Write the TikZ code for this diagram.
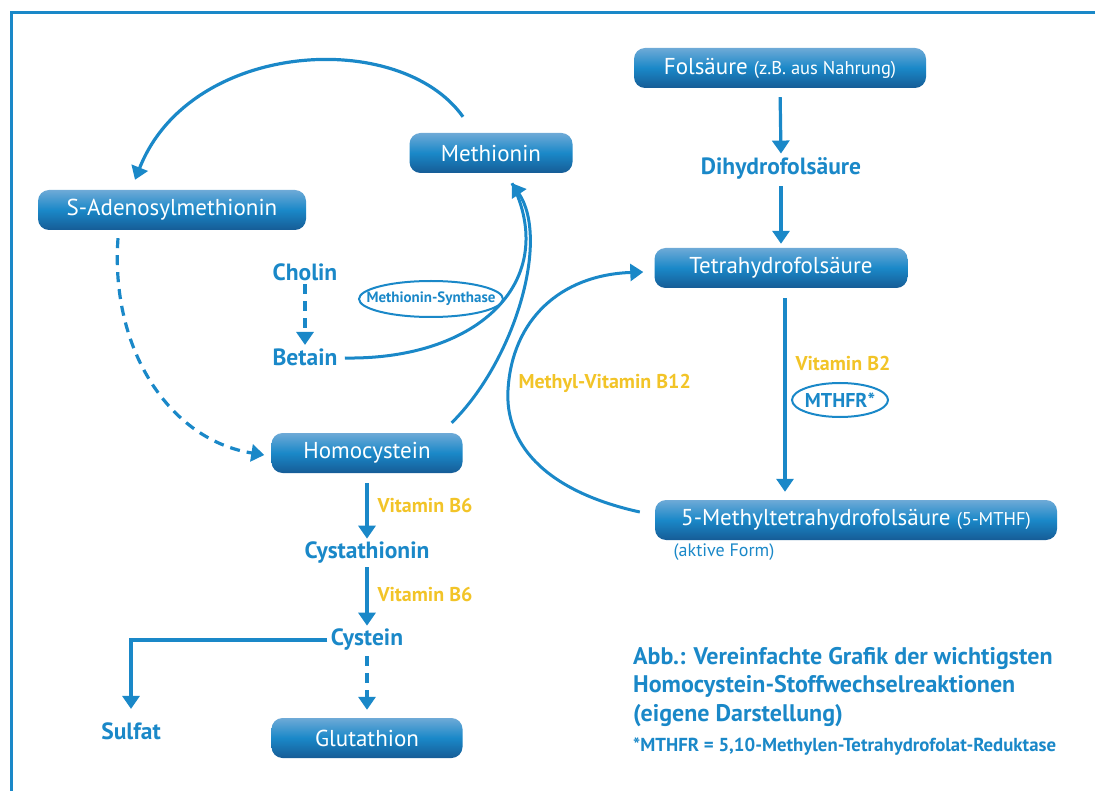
\documentclass[tikz,border=0pt]{standalone}
\usepackage{fontspec}
\setmainfont{PT Sans}
\usetikzlibrary{arrows.meta,calc}

\definecolor{mblue}{RGB}{26,136,200}
\definecolor{mtop}{RGB}{110,170,215}
\definecolor{mbot}{RGB}{22,92,150}
\definecolor{myellow}{RGB}{242,196,40}

\tikzset{
  box/.style={rounded corners=11pt, top color=mtop, bottom color=mbot, middle color=mblue,
    text=white, minimum height=40pt, inner sep=0pt, font=\fontsize{23}{26}\selectfont},
  small/.style={font=\fontsize{18.5}{20}\selectfont},
  lbl/.style={text=mblue, font=\fontsize{23.5}{26}\bfseries},
  vit/.style={text=myellow, font=\fontsize{20}{22}\bfseries, anchor=west},
  enz/.style={text=mblue, inner sep=0pt, font=\fontsize{15}{17}\bfseries},
  ring/.style={draw=mblue, line width=2pt},
  arr/.style={mblue, line width=3.2pt, -{Triangle[length=13pt,width=17pt]}},
  darr/.style={arr, dash pattern=on 10pt off 7pt},
}

\begin{document}
\begin{tikzpicture}[x=1pt, y=-1pt]
  \useasboundingbox (0,0) rectangle (1095,791);
  \draw[mblue, line width=3pt] (11,791) -- (11,13) -- (1095,13);

  % boxes
  \node[box, minimum width=163pt] (met) at (491,153) {Methionin};
  \node[box, minimum width=268pt] (sam) at (172,210) {S-Adenosylmethionin};
  \node[box, minimum width=292pt] (fol) at (780,68) {Fols\"aure {\fontsize{18.5}{20}\selectfont(z.B. aus Nahrung)}};
  \node[box, minimum width=253pt] (thf) at (781,268) {Tetrahydrofols\"aure};
  \node[box, minimum width=191pt] (hcy) at (367,453) {Homocystein};
  \node[box, minimum width=402pt] (mthf) at (856,520) {5-Methyltetrahydrofols\"aure {\fontsize{18.5}{20}\selectfont(5-MTHF)}};
  \node[box, minimum width=191pt] (glu) at (367,738) {Glutathion};

  % labels
  \node[lbl] (cho) at (305,272) {Cholin};
  \node[lbl] (bet) at (305,357) {Betain};
  \node[lbl] (dhf) at (781,168) {Dihydrofols\"aure};
  \node[lbl] (cyt) at (367,553) {Cystathionin};
  \node[lbl] (cys) at (367,640) {Cystein};
  \node[lbl] (sul) at (131,731) {Sulfat};
  \node[enz] (ms) at (431,299) {Methionin-Synthase};
  \draw[ring] (ms) ellipse [x radius=72pt, y radius=18pt];
  \node[enz, font=\fontsize{20}{22}\bfseries] (mthfr) at (840,400) {MTHFR*};
  \draw[ring] (mthfr) ellipse [x radius=48pt, y radius=17pt];
  \node[vit] (b2) at (792,364) {Vitamin B2};
  \node[vit] (b12) at (515,383) {Methyl-Vitamin B12};
  \node[vit] (b6a) at (374,505) {Vitamin B6};
  \node[vit] (b6b) at (374,594) {Vitamin B6};
  \node[text=mblue, font=\fontsize{18}{20}\selectfont] (akt) at (724,552) {(aktive Form)};

  \node[text=mblue, font=\fontsize{24}{28.5}\bfseries, align=left, anchor=north west, inner sep=0pt]
    (cap) at (633,647) {Abb.: Vereinfachte Grafik der wichtigsten\\Homocystein-Stoffwechselreaktionen\\(eigene Darstellung)};
  \node[text=mblue, font=\fontsize{18.8}{20}\bfseries, anchor=west, inner sep=0pt]
    (fn) at (633,747) {*MTHFR = 5,10-Methylen-Tetrahydrofolat-Reduktase};

  % straight arrows
  \draw[arr, shorten <=9pt] (fol.south) -- (dhf.north);
  \draw[arr, shorten <=4pt, shorten >=4pt] (dhf.south) -- (thf.north);
  \draw[arr, shorten <=10pt, shorten >=8pt] ([xshift=4pt]thf.south) -- ([xshift=4pt]thf.south |- mthf.north);
  \draw[darr] (cho.south) -- (bet.north);
  \draw[arr, shorten <=10pt] (hcy.south) -- (cyt.north);
  \draw[arr] (cyt.south) -- (cys.north);
  \draw[darr, shorten <=2pt, shorten >=8pt] (cys.south) -- (glu.north);
  \draw[arr, shorten >=10pt] (cys.west) -| (sul.north);

  % curved arrows
  \draw[arr] ($(met.north)+(-28,-16)$) .. controls (400,28) and (190,40) .. ($(sam.north)+(-37,-10)$);
  \draw[darr] ($(sam.south)+(-54,8)$) .. controls (110,350) and (170,440) .. ($(hcy.west)+(-7,2)$);
  \draw[arr, line width=3pt] ($(hcy.north east)+(-11,-10)$) .. controls (515,360) and (550,240) .. ($(met.south)+(21,10)$);
  \draw[mblue, line width=3pt] ($(bet.east)+(4,1)$) .. controls (480,360) and (560,280) .. ($(met.south)+(21,10)$);
  \draw[arr, line width=3pt] ($(mthf.west)+(-15,-8)$) .. controls (540,490) and (505,440) .. (508,390)
    .. controls (512,320) and (560,275) .. ($(thf.west)+(-11,4)$);
\end{tikzpicture}
\end{document}
